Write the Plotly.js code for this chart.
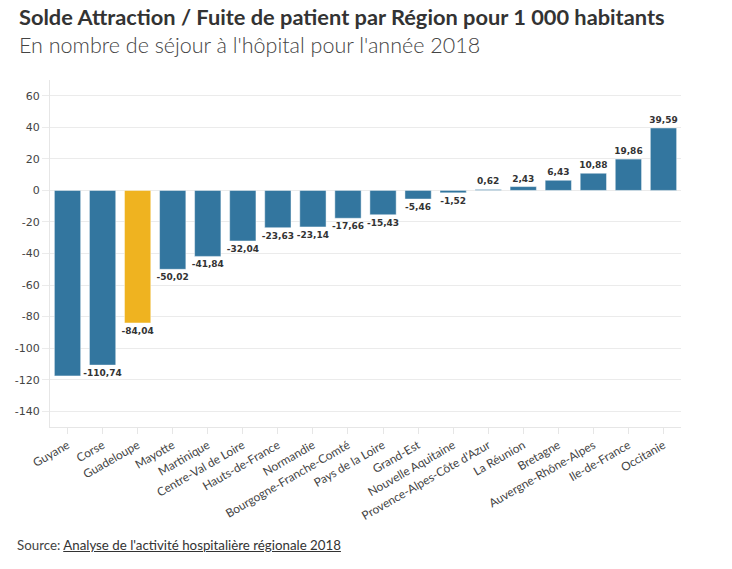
<!DOCTYPE html>
<html><head><meta charset="utf-8">
<script src="https://cdn.plot.ly/plotly-3.0.1.min.js"></script>
<style>
html,body{margin:0;padding:0;background:#fff;}
#chart{width:732px;height:569px;position:relative;}
#src{position:absolute;left:17px;top:537px;font-family:'Lato','Open Sans',sans-serif;font-size:13.3px;color:#444;}
#src span{text-decoration:underline;color:#333;}
</style></head>
<body>
<div id="chart"></div>
<div id="src">Source: <span>Analyse de l'activité hospitalière régionale 2018</span></div>
<script>
const regions = ["Guyane","Corse","Guadeloupe","Mayotte","Martinique","Centre-Val de Loire","Hauts-de-France","Normandie","Bourgogne-Franche-Comté","Pays de la Loire","Grand-Est","Nouvelle Aquitaine","Provence-Alpes-Côte d'Azur","La Réunion","Bretagne","Auvergne-Rhône-Alpes","Ile-de-France","Occitanie"];
const values = [-117.6,-110.74,-84.04,-50.02,-41.84,-32.04,-23.63,-23.14,-17.66,-15.43,-5.46,-1.52,0.62,2.43,6.43,10.88,19.86,39.59];
const hiddenLabels = ["Guyane"];
const highlight = "Guadeloupe";
const yTicks = [60,40,20,0,-20,-40,-60,-80,-100,-120,-140];

const labels = values.map((v,i)=> hiddenLabels.includes(regions[i]) ? "" : v.toFixed(2).replace(".",","));
const colors = regions.map(r => r===highlight ? "#efb320" : "#33769f");

const trace = {
  type:"bar", x:regions, y:values,
  marker:{color:colors, line:{color:"rgba(255,255,255,0.45)", width:1}},
  text:labels, textposition:"outside", cliponaxis:false, constraintext:"none",
  textfont:{family:"DejaVu Sans", size:9, color:"#333", weight:"bold"},
  hoverinfo:"x+y"
};
const layout = {
  width:732, height:569,
  margin:{l:50, r:51, t:80, b:142},
  paper_bgcolor:"#fff", plot_bgcolor:"#fff",
  bargap:0.25,
  showlegend:false,
  xaxis:{
    tickangle:-30, tickfont:{family:"Lato, Open Sans", size:11.8, color:"#444"},
    showgrid:false, showline:true, linecolor:"#e6e6e6", linewidth:1,
    ticks:"outside", ticklen:6, tickcolor:"#e6e6e6", automargin:false
  },
  yaxis:{
    range:[-150,70], tickvals:yTicks, ticktext:yTicks.map(String),
    tickfont:{family:"DejaVu Sans", size:11, color:"#444"},
    showgrid:true, gridcolor:"#ebebeb", zeroline:false,
    showline:true, linecolor:"#e6e6e6", ticks:"outside", ticklen:7, tickcolor:"#ebebeb",
    automargin:false
  },
  annotations:[
    {text:"<b>Solde Attraction / Fuite de patient par Région pour 1 000 habitants</b>", xref:"paper", yref:"paper", x:-0.052, y:1, xanchor:"left", yanchor:"bottom", yshift:48, showarrow:false, font:{family:"Lato", size:21.8, color:"#333"}},
    {text:"En nombre de séjour à l'hôpital pour l'année 2018", xref:"paper", yref:"paper", x:-0.052, y:1, xanchor:"left", yanchor:"bottom", yshift:20, showarrow:false, font:{family:"Lato", size:21.5, color:"#444", weight:300}}
  ]
};
Plotly.newPlot("chart",[trace],layout,{displayModeBar:false, staticPlot:true});
</script>
</body></html>
